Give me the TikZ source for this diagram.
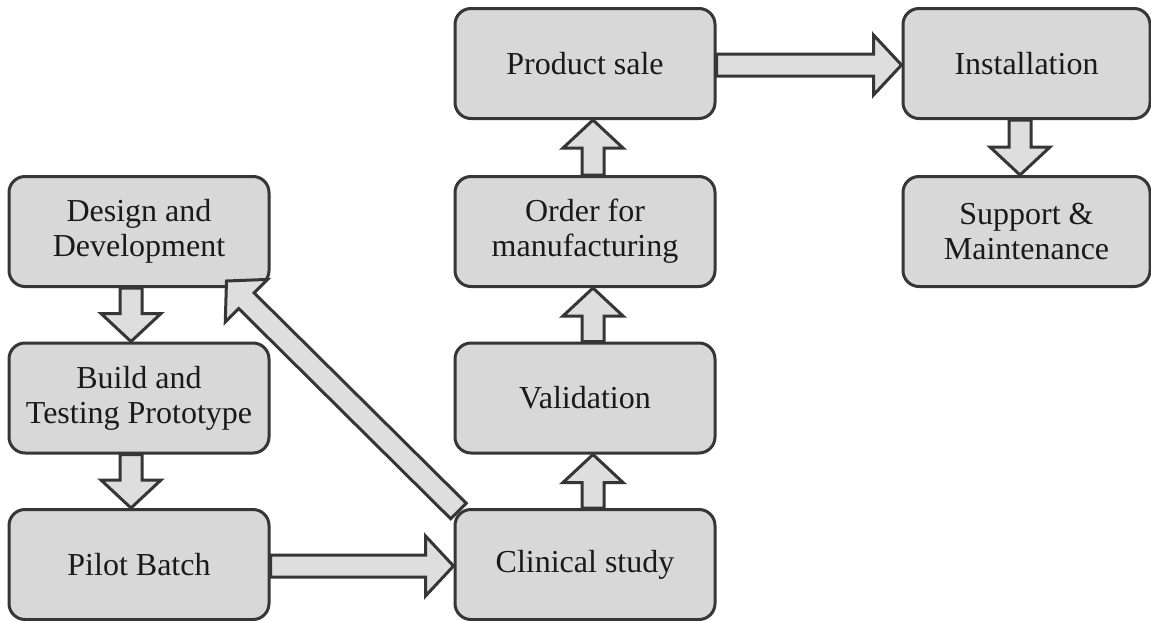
\documentclass[tikz,border=0pt]{standalone}
\usepackage{fontspec}
\setmainfont{Liberation Serif}
\usetikzlibrary{calc}
\definecolor{boxfill}{HTML}{D8D8D8}
\definecolor{arrfill}{HTML}{DEDEDE}
\definecolor{edge}{HTML}{363636}
\definecolor{txt}{HTML}{1A1A1A}
\tikzset{
  stage/.style={draw=edge, fill=boxfill, line width=3pt, rounded corners=16pt,
    minimum width=260pt, minimum height=110pt, align=center, text=txt,
    font=\fontsize{32}{35}\selectfont, inner sep=0pt},
  arr/.style={draw=edge, fill=arrfill, line width=3pt, line join=miter}
}
\newcommand\blockarrow[2]{%
  \coordinate (tmpb) at ($(#2)!28pt!(#1)$);
  \draw[arr] ($(#1)!11pt!90:(#2)$) -- ($(tmpb)!11pt!90:(#2)$) -- ($(tmpb)!30pt!90:(#2)$)
    -- (#2) -- ($(tmpb)!30pt!-90:(#2)$) -- ($(tmpb)!11pt!-90:(#2)$) -- ($(#1)!11pt!-90:(#2)$) -- cycle;
}
\begin{document}
\begin{tikzpicture}[x=1pt,y=-1pt]
\useasboundingbox (0,0) rectangle (1151,621);
\fill[white] (0,0) rectangle (1151,621);
% column 1
\node[stage] (dd) at (139,231.5) {Design and\\Development};
\node[stage] (bt) at (139,398) {Build and\\Testing Prototype};
\node[stage] (pb) at (139,564.5) {Pilot Batch};
% column 2
\node[stage] (cs) at (585,564.5) {Clinical study};
\node[stage] (va) at (585,398) {Validation};
\node[stage] (om) at (585,231.5) {Order for\\manufacturing};
\node[stage] (ps) at (585,63.5) {Product sale};
% column 3
\node[stage, minimum width=247pt] (in) at (1026.5,63.5) {Installation};
\node[stage, minimum width=247pt] (sm) at (1026.5,231.5) {Support \&\\Maintenance};
% arrow end points
\coordinate (a1s) at ($(dd.south)+(-8,0)$);
\coordinate (a1e) at ($(bt.north)+(-8,0)$);
\coordinate (a2s) at ($(bt.south)+(-8,0)$);
\coordinate (a2e) at ($(pb.north)+(-8,0)$);
\coordinate (a3s) at ($(pb.east)+(0,1.5)$);
\coordinate (a3e) at ($(cs.west)+(0,1.5)$);
\coordinate (a4s) at ($(cs.north)+(8,0)$);
\coordinate (a4e) at ($(va.south)+(8,0)$);
\coordinate (a5s) at ($(va.north)+(8,0)$);
\coordinate (a5e) at ($(om.south)+(8,0)$);
\coordinate (a6s) at ($(om.north)+(8,0)$);
\coordinate (a6e) at ($(ps.south)+(8,0)$);
\coordinate (a7s) at ($(ps.east)+(0,1.5)$);
\coordinate (a7e) at ($(in.west)+(0,1.5)$);
\coordinate (a8s) at ($(in.south)+(-6.5,0)$);
\coordinate (a8e) at ($(sm.north)+(-6.5,0)$);
\coordinate (a9s) at ($(cs.north west)+(5,3)$);
\coordinate (a9e) at ($(dd.south east)+(-44,-7)$);
\blockarrow{a1s}{a1e}
\blockarrow{a2s}{a2e}
\blockarrow{a3s}{a3e}
\blockarrow{a4s}{a4e}
\blockarrow{a5s}{a5e}
\blockarrow{a6s}{a6e}
\blockarrow{a7s}{a7e}
\blockarrow{a8s}{a8e}
\blockarrow{a9s}{a9e}
\end{tikzpicture}
\end{document}
